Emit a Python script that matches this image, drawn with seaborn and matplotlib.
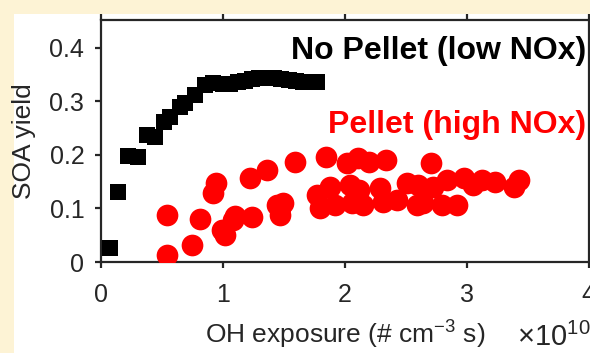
import matplotlib
matplotlib.use("Agg")
import matplotlib.pyplot as plt
from matplotlib.patches import Rectangle
import seaborn as sns
import pandas as pd

# ---- data (OH exposure in units of 1e10 # cm^-3 s) ----
nopellet_x = [0.07, 0.14, 0.22, 0.30, 0.38, 0.44, 0.52, 0.57, 0.65, 0.69, 0.77, 0.85,
              0.92, 1.00, 1.06, 1.12, 1.18, 1.24, 1.30, 1.36, 1.42, 1.48, 1.54, 1.60,
              1.66, 1.72, 1.77]
nopellet_y = [0.026, 0.131, 0.198, 0.196, 0.237, 0.234, 0.262, 0.271, 0.290, 0.297, 0.312, 0.331,
              0.335, 0.333, 0.333, 0.336, 0.338, 0.341, 0.344, 0.344, 0.343, 0.342, 0.340, 0.338,
              0.337, 0.336, 0.336]

pellet_x = [0.54, 0.54, 0.75, 0.81, 0.92, 0.94, 0.99, 1.02, 1.08, 1.10, 1.22, 1.24, 1.36,
            1.44, 1.47, 1.47, 1.49, 1.59, 1.77, 1.80, 1.85, 1.88, 1.92, 2.02, 2.04, 2.06,
            2.11, 2.12, 2.15, 2.20, 2.29, 2.31, 2.34, 2.43, 2.51, 2.59, 2.60, 2.64, 2.71,
            2.72, 2.80, 2.84, 2.92, 2.98, 3.05, 3.13, 3.23, 3.39, 3.43]
pellet_y = [0.013, 0.088, 0.032, 0.080, 0.129, 0.148, 0.060, 0.050, 0.078, 0.085, 0.157, 0.084, 0.172,
            0.107, 0.100, 0.088, 0.110, 0.187, 0.125, 0.101, 0.196, 0.140, 0.107, 0.185, 0.144, 0.110,
            0.194, 0.135, 0.107, 0.187, 0.138, 0.112, 0.190, 0.116, 0.148, 0.107, 0.144, 0.110, 0.185,
            0.140, 0.107, 0.153, 0.107, 0.157, 0.144, 0.153, 0.150, 0.140, 0.153]

xticks = [0, 1, 2, 3, 4]
yticks = [0, 0.1, 0.2, 0.3, 0.4]
ytick_labels = ["0", "0.1", "0.2", "0.3", "0.4"]

df_np = pd.DataFrame({"x": nopellet_x, "y": nopellet_y})
df_p = pd.DataFrame({"x": pellet_x, "y": pellet_y})

sns.set_style("white")
plt.rcParams["font.family"] = ["Liberation Sans", "DejaVu Sans"]
plt.rcParams["mathtext.fontset"] = "custom"
plt.rcParams["mathtext.rm"] = "Liberation Sans"
plt.rcParams["mathtext.it"] = "Liberation Sans:italic"
plt.rcParams["mathtext.bf"] = "Liberation Sans:bold"

W, H = 590, 353
fig = plt.figure(figsize=(W / 100, H / 100), dpi=100)
fig.patch.set_facecolor("#FDF3D5")
fig.add_artist(Rectangle((14 / W, 0), 1, (H - 14) / H, transform=fig.transFigure,
                         facecolor="white", edgecolor="none", zorder=-5))

ax = fig.add_axes([101 / W, (H - 262) / H, 487.5 / W, 242 / H])
ax.set_facecolor("white")

sns.scatterplot(data=df_np, x="x", y="y", marker="s", color="black", s=133,
                linewidth=0, ax=ax, zorder=3)
sns.scatterplot(data=df_p, x="x", y="y", marker="o", color="#FF0000", s=244,
                linewidth=0, ax=ax, zorder=4)

ax.set_xlim(0, 4)
ax.set_ylim(0, 0.452)
ax.set_xticks(xticks)
ax.set_xticklabels([str(t) for t in xticks])
ax.set_yticks(yticks)
ax.set_yticklabels(ytick_labels)

axcol = "#262626"
for sp in ax.spines.values():
    sp.set_visible(True)
    sp.set_color(axcol)
    sp.set_linewidth(1.6)
ax.tick_params(axis="both", which="major", direction="out", length=4, width=1.6,
               color=axcol, labelcolor=axcol, labelsize=18, top=True, right=True,
               bottom=True, left=True, labeltop=False, labelright=False)
ax.tick_params(axis="x", pad=11)
ax.tick_params(axis="y", pad=8)

ax.set_xlabel("OH exposure (# cm$^{\\mathregular{-3}}$ s)", fontsize=19, color=axcol)
ax.set_ylabel("SOA yield", fontsize=19, color=axcol)
ax.xaxis.label.set_va("center")
ax.xaxis.set_label_coords(0.5, -0.30)
ax.yaxis.label.set_va("center")
ax.yaxis.set_label_coords(-0.157, 0.5)

fig.text(517 / W, (H - 346) / H, "$\\times$10$^{\\mathregular{10}}$", fontsize=21,
         color=axcol, ha="left", va="baseline")

ax.text(0.995, 0.87, "No Pellet (low NOx)", transform=ax.transAxes, ha="right",
        va="center", fontsize=23, fontweight="bold", color="black")
ax.text(0.995, 0.565, "Pellet (high NOx)", transform=ax.transAxes, ha="right",
        va="center", fontsize=23, fontweight="bold", color="#FF0000")

fig.savefig("out.png", dpi=100, facecolor=fig.get_facecolor())
